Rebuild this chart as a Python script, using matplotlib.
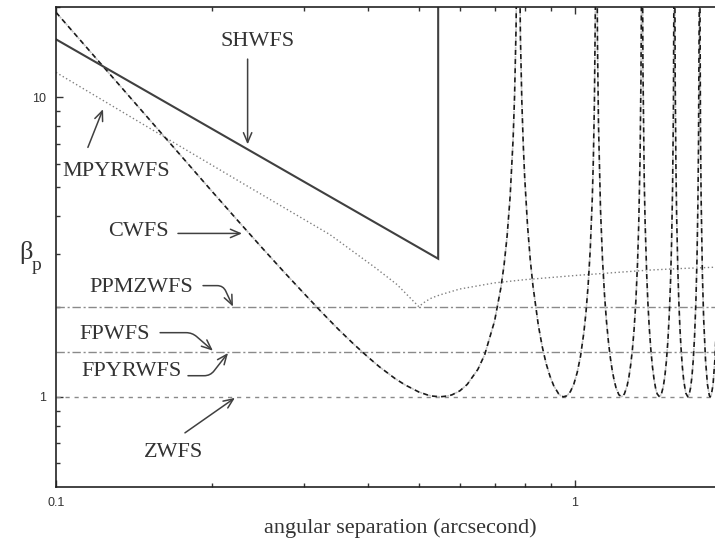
import matplotlib
matplotlib.use("Agg")
import matplotlib.pyplot as plt
from matplotlib.ticker import FixedLocator, FixedFormatter, NullFormatter

# --- data (log-log axes) ---
shwfs_x = [0.1, 0.545, 0.545]
shwfs_y = [15.6, 2.89, 30.0]

mpyr_x = [0.1, 0.161, 0.236, 0.337, 0.412, 0.454, 0.5, 0.515, 0.53, 0.55,
          0.6, 0.7, 0.8, 1.0, 1.2, 1.4, 1.6, 2.0]
mpyr_y = [12.1, 7.4, 5.0, 3.48, 2.70, 2.37, 2.0, 2.08, 2.14, 2.19,
          2.29, 2.40, 2.46, 2.54, 2.60, 2.65, 2.68, 2.72]

cwfs_x = [
    0.1, 0.12, 0.14, 0.17, 0.2, 0.225, 0.25, 0.275, 0.3, 0.325, 0.35, 0.375,
    0.4, 0.42, 0.45, 0.47, 0.5, 0.52, 0.53, 0.55, 0.57, 0.58, 0.6, 0.62, 0.65,
    0.67, 0.7, 0.72, 0.73, 0.74, 0.75, 0.76, 0.765, 0.77, 0.775,
    0.78, 0.785, 0.79, 0.795, 0.8, 0.81, 0.82, 0.83, 0.85, 0.865, 0.88, 0.895,
    0.91, 0.93, 0.94, 0.95, 0.965, 0.98, 0.995, 1.01, 1.025, 1.04, 1.05, 1.06,
    1.07, 1.08, 1.085, 1.09, 1.095, 1.098,
    1.101, 1.105, 1.11, 1.12, 1.13, 1.14, 1.15, 1.16, 1.17, 1.18, 1.19, 1.2,
    1.215, 1.23, 1.245, 1.26, 1.27, 1.28, 1.29, 1.3, 1.31, 1.32, 1.327, 1.335,
    1.34, 1.343, 1.345,
    1.348, 1.352, 1.36, 1.365, 1.375, 1.382, 1.39, 1.40, 1.41, 1.42, 1.43,
    1.44, 1.455, 1.467, 1.48, 1.49, 1.5, 1.51, 1.52, 1.528, 1.535, 1.542,
    1.548, 1.553,
    1.556, 1.56, 1.565, 1.57, 1.578, 1.585, 1.592, 1.6, 1.61, 1.62, 1.635,
    1.65, 1.66, 1.67, 1.68, 1.69, 1.70, 1.71, 1.718, 1.725, 1.73, 1.735,
    1.74, 1.745, 1.75, 1.76, 1.77, 1.785, 1.8, 1.815, 1.822, 1.83, 1.845,
    1.86, 1.87, 1.88, 1.9,
]
cwfs_y = [
    19.2, 13.36, 9.83, 6.68, 4.84, 3.84, 3.13, 2.61, 2.22, 1.916, 1.68, 1.497,
    1.353, 1.259, 1.151, 1.097, 1.038, 1.014, 1.006, 1.0, 1.007, 1.016, 1.047,
    1.100, 1.235, 1.383, 1.79, 2.317, 2.75, 3.44, 4.66, 7.26, 10.17, 17.1, 54.7,
    45.2, 15.9, 9.66, 6.93, 5.41, 3.75, 2.87, 2.344, 1.732, 1.468, 1.29, 1.172,
    1.089, 1.023, 1.007, 1.0, 1.008, 1.041, 1.103, 1.206, 1.367, 1.635, 1.913,
    2.35, 3.09, 4.63, 6.21, 9.54, 20.7, 71.0,
    49.5, 15.1, 8.1, 4.21, 2.864, 2.19, 1.787, 1.527, 1.349, 1.223, 1.134,
    1.071, 1.016, 1.0, 1.022, 1.086, 1.161, 1.272, 1.434, 1.68, 2.082, 2.80,
    3.78, 6.38, 11.4, 21.8, 55.9,
    41.5, 12.45, 5.2, 3.83, 2.53, 2.059, 1.716, 1.441, 1.263, 1.147, 1.069,
    1.023, 1.0, 1.020, 1.083, 1.172, 1.312, 1.531, 1.907, 2.418, 3.24, 4.99,
    9.49, 40.0,
    42.5, 11.3, 5.92, 4.02, 2.68, 2.10, 1.739, 1.474, 1.264, 1.134, 1.029,
    1.0, 1.019, 1.071, 1.165, 1.324, 1.590, 2.08, 2.84, 4.30, 6.92, 18.3,
    28.2, 7.95, 4.64, 2.57, 1.816, 1.319, 1.10, 1.011, 1.0, 1.009, 1.096,
    1.32, 1.619, 2.21, 12.9,
]

ppmz_level = 2.0
fp_level = 1.414
z_level = 1.0

x_ticks = [0.1, 1]
x_ticklabels = ["0.1", "1"]
y_ticks = [1, 10]
y_ticklabels = ["1", "10"]

SERIF = ["Liberation Serif", "DejaVu Serif"]
SANS = ["Liberation Sans", "DejaVu Sans"]
INK = "#333333"

fig = plt.figure(figsize=(7.15, 5.42), dpi=100)
ax = fig.add_axes([56 / 715, 55 / 542, 675.2 / 715, 480 / 542])
ax.set_xscale("log")
ax.set_yscale("log")
ax.set_xlim(0.1, 2.0)
ax.set_ylim(0.5, 20.0)

# horizontal levels
ax.axhline(ppmz_level, color="#8a8a8a", lw=1.0, dashes=(6, 2, 1.5, 2))
ax.axhline(fp_level, color="#8a8a8a", lw=1.0, dashes=(6, 2, 1.5, 2))
ax.axhline(z_level, color="#8a8a8a", lw=1.0, dashes=(3, 3.5))

# curves
ax.plot(mpyr_x, mpyr_y, color="#808080", lw=1.0, linestyle=(0, (1, 1.8)))
ax.plot(cwfs_x, cwfs_y, color="#c4c4c4", lw=1.1, linestyle=(3.2, (2.5, 3.5)))
ax.plot(cwfs_x, cwfs_y, color="#1a1a1a", lw=1.2, linestyle=(0, (3, 2.5)))
ax.plot(shwfs_x, shwfs_y, color="#404040", lw=1.5, solid_joinstyle="miter")

# ticks
ax.xaxis.set_major_locator(FixedLocator(x_ticks))
ax.xaxis.set_major_formatter(FixedFormatter(x_ticklabels))
ax.xaxis.set_minor_locator(FixedLocator([0.2, 0.3, 0.4, 0.5, 0.6, 0.7, 0.8, 0.9, 2.0]))
ax.xaxis.set_minor_formatter(NullFormatter())
ax.yaxis.set_major_locator(FixedLocator(y_ticks))
ax.yaxis.set_major_formatter(FixedFormatter(y_ticklabels))
ax.yaxis.set_minor_locator(FixedLocator([0.6, 0.7, 0.8, 0.9, 2, 3, 4, 5, 6, 7, 8, 9, 20]))
ax.yaxis.set_minor_formatter(NullFormatter())
ax.tick_params(which="both", direction="in", top=True, right=True,
               color=INK, width=1.0, labelsize=9, labelcolor=INK, pad=7)
ax.tick_params(which="major", length=5)
ax.tick_params(which="minor", length=3)
for lab in ax.get_xticklabels() + ax.get_yticklabels():
    lab.set_family(SANS)
for sp in ax.spines.values():
    sp.set_color("#222222")
    sp.set_linewidth(1.2)

fig.text(400 / 715, 1 - 528 / 542, "angular separation (arcsecond)",
         family=SERIF, fontsize=16, color=INK, ha="center", va="center")
fig.text(26 / 715, 1 - 253 / 542, "β", family=SERIF, fontsize=19,
         color=INK, ha="center", va="center")
fig.text(37 / 715, 1 - 266 / 542, "p", family=SERIF, fontsize=14,
         color=INK, ha="center", va="center")

# labels and arrows
arrow = dict(arrowstyle="->,head_length=0.7,head_width=0.3", color="#404040",
             lw=1.1, shrinkA=0, shrinkB=0)


def label(x, y, s):
    ax.text(x, y, s, family=SERIF, fontsize=16, color=INK,
            ha="center", va="center")


def pointer(start, tip, conn="arc3"):
    ax.annotate("", xy=tip, xytext=start,
                arrowprops=dict(arrow, connectionstyle=conn))


label(0.245, 15.4, "SHWFS")
pointer((0.234, 13.4), (0.234, 6.96))

label(0.1305, 5.65, "MPYRWFS")
pointer((0.1152, 6.80), (0.1232, 9.12))

label(0.1439, 3.56, "CWFS")
pointer((0.1718, 3.51), (0.2283, 3.51))

label(0.1458, 2.315, "PPMZWFS")
pointer((0.192, 2.35), (0.2193, 2.0), "angle,angleA=0,angleB=-65,rad=6")

label(0.1299, 1.612, "FPWFS")
pointer((0.1587, 1.637), (0.2006, 1.425), "angle,angleA=0,angleB=-41,rad=6")

label(0.1395, 1.212, "FPYRWFS")
pointer((0.1796, 1.176), (0.2145, 1.40), "angle,angleA=0,angleB=52,rad=6")

label(0.1687, 0.650, "ZWFS")
pointer((0.1772, 0.758), (0.2212, 0.992))

fig.savefig("out.png", dpi=100)
